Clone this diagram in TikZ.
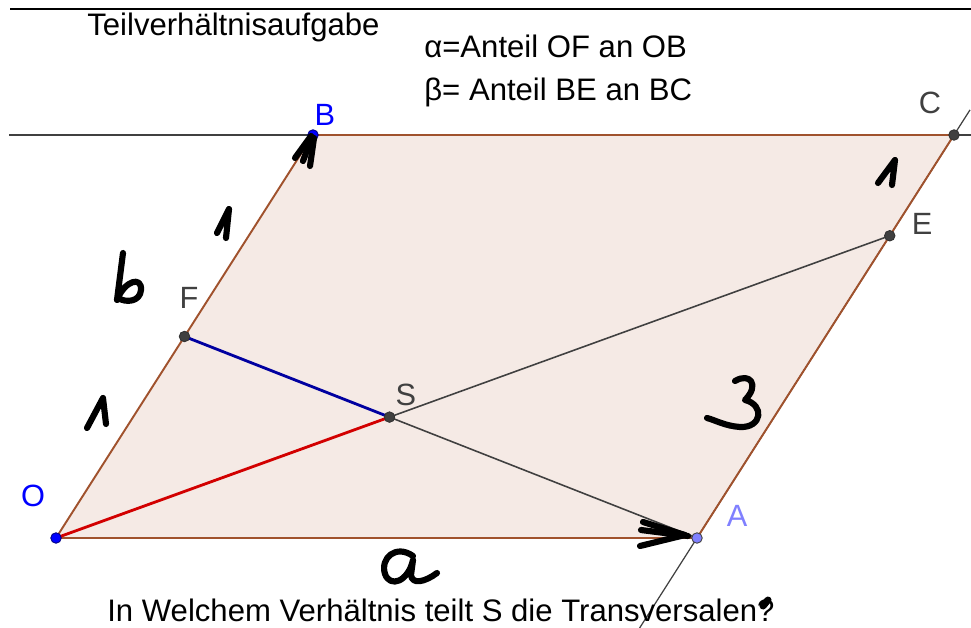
\documentclass[tikz,border=0pt]{standalone}
\usepackage{fontspec}
\setmainfont{Liberation Sans}
\usetikzlibrary{calc,backgrounds}
\definecolor{brn}{RGB}{160,82,45}
\definecolor{fillc}{RGB}{245,234,229}
\definecolor{dgray}{RGB}{64,64,64}
\definecolor{lblue}{RGB}{128,128,255}
\definecolor{redseg}{RGB}{210,0,0}
\definecolor{blueseg}{RGB}{0,0,160}
\begin{document}
\begin{tikzpicture}[x=0.02cm,y=-0.02cm,
  edge/.style={draw=brn,line width=1.1pt},
  auxline/.style={draw=dgray,line width=0.9pt},
  dot/.style={circle,draw=black!80,line width=0.5pt,inner sep=0pt,minimum size=0.21cm,fill=dgray},
  lbl/.style={font=\fontsize{17.5}{21}\selectfont,text=dgray,inner sep=0pt},
  txt/.style={font=\fontsize{17.7}{21}\selectfont,anchor=base west,inner sep=0pt},
  hand/.style={line width=3.5pt,line cap=round,line join=round}]
\useasboundingbox (0,0) rectangle (971,628);
% coordinates
\coordinate (cO) at (56,538);
\coordinate (cA) at (697,538);
\coordinate (cB) at (313,135);
\coordinate (cC) at (954,135);
\coordinate (cF) at ($(cO)!0.5!(cB)$);
\coordinate (cE) at ($(cA)!0.75!(cC)$);
\coordinate (cS) at ($(cO)!0.4!(cE)$);
\coordinate (lowEnd) at ($(cA)!-0.2233!(cC)$);
\coordinate (upEnd) at ($(cA)!1.0623!(cC)$);
\coordinate (hL) at (9,135);
\coordinate (hR) at (971,135);
\coordinate (tL) at (10,9);
\coordinate (tR) at (971,9);
% points
\node[dot,fill=blue,draw=blue!50!black] (O) at (cO) {};
\node[dot,fill=lblue,draw=dgray] (A) at (cA) {};
\node[dot,fill=blue,draw=blue!50!black] (B) at (cB) {};
\node[dot] (C) at (cC) {};
\node[dot] (E) at (cE) {};
\node[dot] (F) at (cF) {};
\node[dot] (S) at (cS) {};
\begin{pgfonlayer}{background}
\fill[fillc] (cO) -- (cA) -- (cC) -- (cB) -- cycle;
\draw[line width=0.9pt] (tL) -- (tR);
\draw[auxline] (hL) -- (hR);
\draw[auxline,line width=0.7pt] (lowEnd) -- (upEnd);
\draw[edge] (O.center) -- (A.center) -- (C.center) -- (B.center) -- cycle;
\draw[redseg,line width=1.6pt] (O.center) -- (S.center);
\draw[blueseg,line width=1.6pt] (F.center) -- (S.center);
\draw[auxline] (S.center) -- (E.center);
\draw[auxline] (S.center) -- (A.center);
\end{pgfonlayer}
% point labels
\node[lbl,text=blue] (lO) at (33,496) {O};
\node[lbl,text=blue] (lB) at (325,115) {B};
\node[lbl,text=lblue] (lA) at (737,516) {A};
\node[lbl] (lC) at (930,103) {C};
\node[lbl] (lE) at (922,224) {E};
\node[lbl] (lF) at (189,298) {F};
\node[lbl] (lS) at (406,395) {S};
% texts
\node[txt] (title) at (87,36) {Teilverhältnisaufgabe};
\node[txt] (alpha) at (424,58) {α=Anteil OF an OB};
\node[txt] (beta) at (424,101) {β= Anteil BE an BC};
\node[txt] (question) at (107,621) {In Welchem Verhältnis teilt S die Transversalen?};
% handwriting
\draw[hand] (217,233) -- (229,209) -- (226,238);
\draw[hand] (87,428) -- (103,398) -- (106,424);
\draw[hand] (878,183) -- (895,160) -- (892,185);
\draw[hand] (123,253) -- (117,300) .. controls (125,280) and (142,276) .. (141,290) .. controls (140,302) and (126,303) .. (118,298);
\draw[hand] (735,381) .. controls (750,372) and (760,385) .. (745,400) .. controls (765,405) and (762,428) .. (740,427) .. controls (725,426) and (715,420) .. (707,418);
\draw[hand] (413,556) .. controls (396,544) and (380,558) .. (385,574) .. controls (390,588) and (408,582) .. (413,560) -- (411,575) .. controls (412,585) and (425,582) .. (437,573);
\draw[hand] (643,522) -- (685,535) -- (640,546);
\draw[hand] (641,530) -- (688,536);
\draw[hand] (295,158) -- (311,136);
\draw[hand] (303,161) -- (312,137);
\draw[hand] (310,166) -- (314,138);
\draw[hand,line width=4pt] (763,606) -- (768,600);
\end{tikzpicture}
\end{document}
